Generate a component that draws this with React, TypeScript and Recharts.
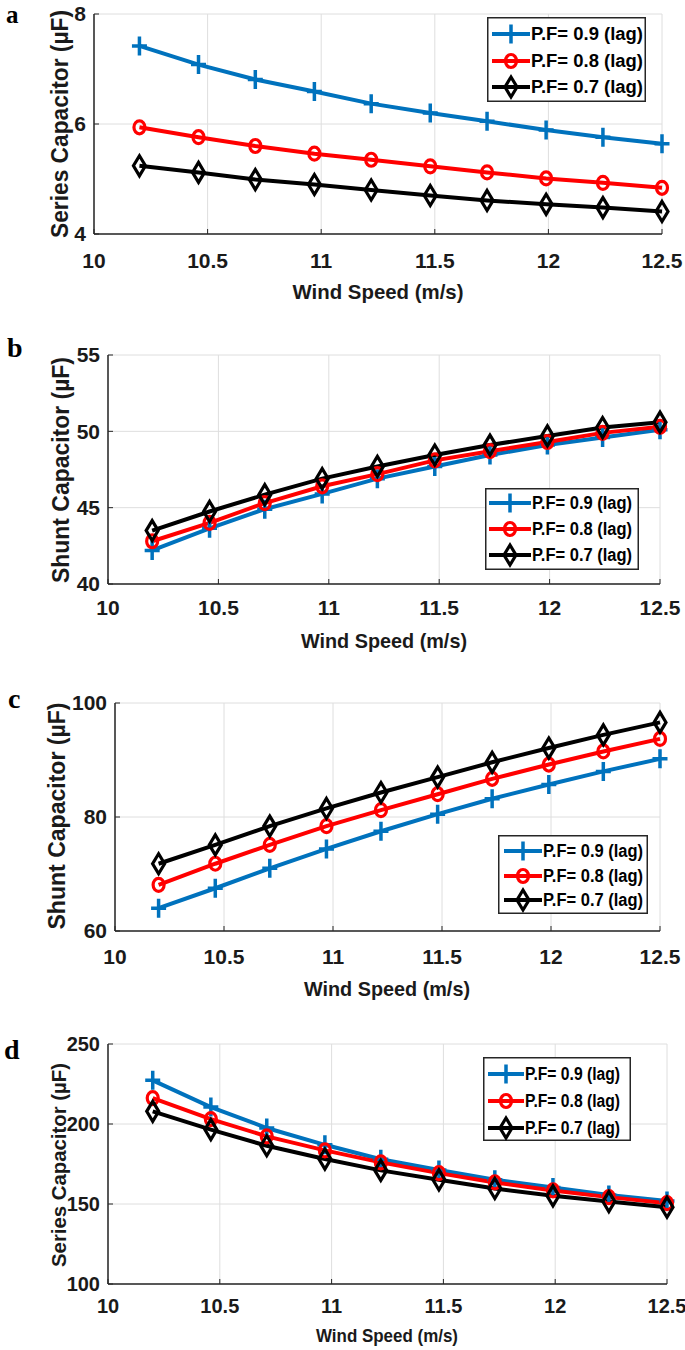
import React from 'react';
import { LineChart, Line, XAxis, YAxis, CartesianGrid, Legend } from 'recharts';

// ---------- data ----------
const windSpeed = [10.2, 10.46, 10.71, 10.97, 11.22, 11.48, 11.73, 11.99, 12.24, 12.5];
const xTicks = [10, 10.5, 11, 11.5, 12, 12.5];

const legendLabels = ['P.F= 0.9 (lag)', 'P.F= 0.8 (lag)', 'P.F= 0.7 (lag)'];

// (a) Series capacitor
const aPF09 = [7.42, 7.08, 6.81, 6.59, 6.37, 6.2, 6.05, 5.89, 5.76, 5.64];
const aPF08 = [5.94, 5.76, 5.6, 5.46, 5.35, 5.23, 5.12, 5.01, 4.93, 4.84];
const aPF07 = [5.24, 5.12, 4.99, 4.9, 4.8, 4.7, 4.61, 4.54, 4.48, 4.41];
const aYTicks = [4, 6, 8];

// (b) Shunt capacitor
const bPF09 = [42.2, 43.65, 44.9, 45.9, 46.9, 47.7, 48.45, 49.1, 49.6, 50.1];
const bPF08 = [42.8, 44.0, 45.3, 46.4, 47.2, 48.1, 48.7, 49.3, 49.9, 50.3];
const bPF07 = [43.5, 44.75, 45.85, 46.9, 47.7, 48.45, 49.1, 49.7, 50.25, 50.6];
const bYTicks = [40, 45, 50, 55];

// (c) Shunt capacitor
const cPF09 = [64.0, 67.5, 71.0, 74.4, 77.5, 80.5, 83.2, 85.7, 88.0, 90.2];
const cPF08 = [68.1, 71.8, 75.1, 78.4, 81.2, 84.0, 86.7, 89.2, 91.5, 93.7];
const cPF07 = [71.8, 75.1, 78.4, 81.5, 84.3, 87.0, 89.6, 92.1, 94.4, 96.6];
const cYTicks = [60, 80, 100];

// (d) Series capacitor
const dPF09 = [227.3, 210.6, 197.5, 187.0, 178.0, 171.3, 165.1, 160.3, 155.7, 151.9];
const dPF08 = [216.2, 203.1, 192.3, 183.5, 176.0, 169.3, 163.5, 158.5, 154.3, 150.5];
const dPF07 = [207.9, 196.5, 186.4, 178.1, 171.0, 165.1, 159.7, 155.1, 151.5, 148.0];
const dYTicks = [100, 150, 200, 250];

// ---------- styles ----------
const COLORS = ['#0072BD', '#FF0000', '#000000'];
const MARKERS = ['plus', 'circle', 'diamond'];
const SANS = "'Liberation Sans', Arial, Helvetica, sans-serif";
const SERIF = "'Liberation Serif', 'Times New Roman', serif";
const AXIS = '#262626';

function Marker({ kind, cx, cy, color }: { kind: string; cx: number; cy: number; color: string }) {
  if (cx == null || cy == null) return null;
  if (kind === 'plus') {
    return (
      <path
        d={`M${cx - 7.5},${cy}H${cx + 7.5}M${cx},${cy - 9.5}V${cy + 9.5}`}
        stroke={color}
        strokeWidth={3.5}
        fill="none"
      />
    );
  }
  if (kind === 'circle') {
    return <ellipse cx={cx} cy={cy} rx={5.5} ry={6.5} stroke={color} strokeWidth={3.2} fill="none" />;
  }
  return (
    <path
      d={`M${cx},${cy - 10}L${cx + 6},${cy}L${cx},${cy + 10}L${cx - 6},${cy}Z`}
      stroke={color}
      strokeWidth={3.2}
      fill="none"
    />
  );
}

type LegendCfg = {
  left: number;
  top: number;
  w: number;
  h: number;
  rows: number[];
  lineX0: number;
  lineLen: number;
  textLen: number;
  fs: number;
};

function LegendBox({ cfg }: { cfg: LegendCfg }) {
  return (
    <svg width={cfg.w} height={cfg.h} style={{ display: 'block', overflow: 'visible' }}>
      <rect x={0.75} y={0.75} width={cfg.w - 1.5} height={cfg.h - 1.5} fill="#fff" stroke={AXIS} strokeWidth={1.5} />
      {legendLabels.map((lab, i) => {
        const y = cfg.rows[i];
        const mx = cfg.lineX0 + cfg.lineLen / 2;
        return (
          <g key={lab}>
            <line x1={cfg.lineX0} x2={cfg.lineX0 + cfg.lineLen} y1={y} y2={y} stroke={COLORS[i]} strokeWidth={4} />
            <Marker kind={MARKERS[i]} cx={mx} cy={y} color={COLORS[i]} />
            <text
              x={cfg.lineX0 + cfg.lineLen + 1}
              y={y}
              dominantBaseline="central"
              fontFamily={SANS}
              fontWeight="bold"
              fontSize={cfg.fs}
              fill="#000"
              textLength={cfg.textLen}
              lengthAdjust="spacingAndGlyphs"
            >
              {lab}
            </text>
          </g>
        );
      })}
    </svg>
  );
}

type PanelCfg = {
  top: number;
  height: number;
  mTop: number;
  mLeft: number;
  mRight: number;
  xTickMargin: number;
  tickFs: number;
  yDomain: [number, number];
  yTicks: number[];
  series: number[][];
  legend: LegendCfg;
};

function Panel({ cfg }: { cfg: PanelCfg }) {
  const data = windSpeed.map((w, i) => ({
    w,
    s0: cfg.series[0][i],
    s1: cfg.series[1][i],
    s2: cfg.series[2][i],
  }));
  const axisLine = { stroke: AXIS, strokeWidth: 1.5 };
  const tickLine = { stroke: AXIS, strokeWidth: 1 };
  const tick = { fill: '#1a1a1a', fontSize: cfg.tickFs, fontWeight: 'bold', fontFamily: SANS };
  return (
    <div style={{ position: 'absolute', left: 0, top: cfg.top }}>
      <LineChart
        width={685}
        height={cfg.height}
        data={data}
        margin={{ top: cfg.mTop, right: cfg.mRight, bottom: 0, left: cfg.mLeft }}
      >
        <CartesianGrid stroke="#dedede" strokeWidth={1} />
        <XAxis
          dataKey="w"
          type="number"
          domain={[10, 12.5]}
          ticks={xTicks}
          interval={0}
          height={40}
          tickSize={-5}
          tickMargin={cfg.xTickMargin}
          axisLine={axisLine}
          tickLine={tickLine}
          tick={tick}
        />
        <XAxis
          xAxisId="top"
          orientation="top"
          dataKey="w"
          type="number"
          domain={[10, 12.5]}
          ticks={xTicks}
          interval={0}
          height={0}
          tickSize={-5}
          tick={false}
          axisLine={axisLine}
          tickLine={tickLine}
        />
        <YAxis
          type="number"
          domain={cfg.yDomain}
          ticks={cfg.yTicks}
          interval={0}
          width={50}
          tickSize={-5}
          tickMargin={13}
          axisLine={axisLine}
          tickLine={tickLine}
          tick={tick}
        />
        <YAxis
          yAxisId="right"
          orientation="right"
          type="number"
          domain={cfg.yDomain}
          ticks={cfg.yTicks}
          interval={0}
          width={0}
          tickSize={-5}
          tick={false}
          axisLine={axisLine}
          tickLine={tickLine}
        />
        {[0, 1, 2].map((i) => (
          <Line
            key={`s${i}`}
            dataKey={`s${i}`}
            type="linear"
            stroke={COLORS[i]}
            strokeWidth={4}
            isAnimationActive={false}
            legendType="none"
            dot={(p: any) => (
              <Marker key={`m${i}-${p.index}`} kind={MARKERS[i]} cx={p.cx} cy={p.cy} color={COLORS[i]} />
            )}
            activeDot={false}
          />
        ))}
        <Legend
          layout="horizontal"
          verticalAlign="middle"
          align="center"
          wrapperStyle={{ left: cfg.legend.left, top: cfg.legend.top, width: cfg.legend.w, height: cfg.legend.h }}
          content={() => <LegendBox cfg={cfg.legend} />}
        />
      </LineChart>
    </div>
  );
}

const panels: PanelCfg[] = [
  {
    top: 0,
    height: 274,
    mTop: 14,
    mLeft: 44,
    mRight: 23,
    xTickMargin: 24.5,
    tickFs: 21,
    yDomain: [4, 8],
    yTicks: aYTicks,
    series: [aPF09, aPF08, aPF07],
    legend: { left: 487, top: 17, w: 159, h: 85, rows: [17, 44, 70], lineX0: 5, lineLen: 38, textLen: 112, fs: 18 },
  },
  {
    top: 330,
    height: 294,
    mTop: 25,
    mLeft: 58,
    mRight: 25,
    xTickMargin: 21.5,
    tickFs: 21,
    yDomain: [40, 55],
    yTicks: bYTicks,
    series: [bPF09, bPF08, bPF07],
    legend: { left: 485, top: 158, w: 154, h: 82, rows: [15, 41, 67], lineX0: 4, lineLen: 42, textLen: 100, fs: 18 },
  },
  {
    top: 680,
    height: 291,
    mTop: 23,
    mLeft: 65,
    mRight: 25,
    xTickMargin: 23.5,
    tickFs: 21,
    yDomain: [60, 100],
    yTicks: cYTicks,
    series: [cPF09, cPF08, cPF07],
    legend: { left: 498, top: 155, w: 150, h: 79, rows: [16, 41, 65], lineX0: 6, lineLen: 38, textLen: 100, fs: 18 },
  },
  {
    top: 1020,
    height: 304,
    mTop: 24,
    mLeft: 58,
    mRight: 18,
    xTickMargin: 19.5,
    tickFs: 20,
    yDomain: [100, 250],
    yTicks: dYTicks,
    series: [dPF09, dPF08, dPF07],
    legend: { left: 483, top: 37, w: 148, h: 84, rows: [17, 44, 71], lineX0: 5, lineLen: 36, textLen: 95, fs: 18 },
  },
];

const panelLetters = [
  { t: 'a', x: 6, y: 23, fs: 25 },
  { t: 'b', x: 7, y: 357, fs: 28 },
  { t: 'c', x: 8, y: 708, fs: 28 },
  { t: 'd', x: 4, y: 1059, fs: 28 },
];

const xTitles = [
  { t: 'Wind Speed (m/s)', x: 378, y: 291, fs: 21, len: 171 },
  { t: 'Wind Speed (m/s)', x: 384, y: 640, fs: 21, len: 166 },
  { t: 'Wind Speed (m/s)', x: 387, y: 988, fs: 21, len: 166 },
  { t: 'Wind Speed (m/s)', x: 387, y: 1335, fs: 19, len: 142 },
];

const yTitles = [
  { t: 'Series Capacitor (µF)', x: 60, y: 124, fs: 23, len: 228 },
  { t: 'Shunt Capacitor (µF)', x: 61, y: 470, fs: 23, len: 226 },
  { t: 'Shunt Capacitor (µF)', x: 57, y: 816, fs: 23, len: 227 },
  { t: 'Series Capacitor (µF)', x: 58, y: 1165, fs: 21, len: 204 },
];

export default function App() {
  return (
    <div style={{ position: 'absolute', left: 0, top: 0, width: 685, height: 1350, background: '#fff' }}>
      {panels.map((p, i) => (
        <Panel key={i} cfg={p} />
      ))}
      <svg
        width={685}
        height={1350}
        style={{ position: 'absolute', left: 0, top: 0, pointerEvents: 'none' }}
      >
        {panelLetters.map((l) => (
          <text key={l.t} x={l.x} y={l.y} fontFamily={SERIF} fontWeight="bold" fontSize={l.fs} fill="#000">
            {l.t}
          </text>
        ))}
        {xTitles.map((t, i) => (
          <text
            key={`x${i}`}
            x={t.x}
            y={t.y}
            textAnchor="middle"
            dominantBaseline="central"
            fontFamily={SANS}
            fontWeight="bold"
            fontSize={t.fs}
            fill="#1a1a1a"
            textLength={t.len}
            lengthAdjust="spacingAndGlyphs"
          >
            {t.t}
          </text>
        ))}
        {yTitles.map((t, i) => (
          <text
            key={`y${i}`}
            x={t.x}
            y={t.y}
            transform={`rotate(-90 ${t.x} ${t.y})`}
            textAnchor="middle"
            dominantBaseline="central"
            fontFamily={SANS}
            fontWeight="bold"
            fontSize={t.fs}
            fill="#1a1a1a"
            textLength={t.len}
            lengthAdjust="spacingAndGlyphs"
          >
            {t.t}
          </text>
        ))}
      </svg>
    </div>
  );
}
